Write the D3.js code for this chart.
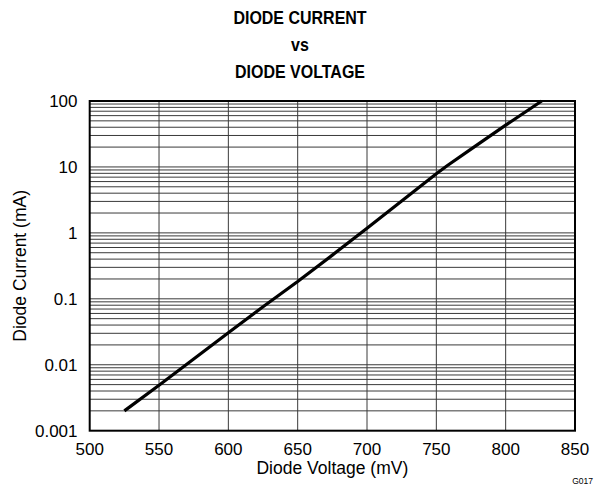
<!doctype html>
<html>
<head>
<meta charset="utf-8">
<title>Diode Current vs Diode Voltage</title>
<script src="https://d3js.org/d3.v7.min.js"></script>
<style>
  body { margin: 0; background: #fff; }
  text { font-family: "Liberation Sans", Arial, sans-serif; fill: #000; }
</style>
</head>
<body>
<svg id="chart" width="597" height="489"></svg>
<script>
// data
const voltage = [525, 550, 575, 600, 625, 650, 675, 700, 725, 750, 758, 775, 800, 826];
const current = [0.002, 0.0049, 0.0122, 0.0306, 0.076, 0.183, 0.46, 1.18, 3.05, 7.9, 10.5, 18.6, 43, 100];

const xTicks = [500, 550, 600, 650, 700, 750, 800, 850];
const yTicks = [0.001, 0.01, 0.1, 1, 10, 100];
const yTickLabels = ["0.001", "0.01", "0.1", "1", "10", "100"];
const titleLines = ["DIODE CURRENT", "vs", "DIODE VOLTAGE"];

const svg = d3.select("#chart");
const plotL = 89.7, plotR = 575, plotT = 101, plotB = 430.7;

const x = d3.scaleLinear().domain([500, 850]).range([plotL, plotR]);
const y = d3.scaleLog().domain([0.001, 100]).range([plotB, plotT]);

// minor grid : 1..9 in every decade
let minor = [];
for (let e = -3; e < 2; e++) {
  for (let m = 1; m < 10; m++) minor.push(m * Math.pow(10, e));
}
minor = minor.filter(v => v > 0.001 * 1.0001 && v < 100 * 0.9999);

const grid = svg.append("g").attr("stroke", "#3a3a3a").attr("stroke-width", 1);
grid.selectAll("line.h")
  .data(minor)
  .enter().append("line")
    .attr("x1", plotL).attr("x2", plotR)
    .attr("y1", d => y(d)).attr("y2", d => y(d));
grid.selectAll("line.v")
  .data(xTicks.slice(1, -1))
  .enter().append("line")
    .attr("x1", d => x(d)).attr("x2", d => x(d))
    .attr("y1", plotT).attr("y2", plotB);

// curve
const line = d3.line()
  .x((d, i) => x(voltage[i]))
  .y((d, i) => y(current[i]));
svg.append("path")
  .datum(voltage)
  .attr("d", line)
  .attr("fill", "none")
  .attr("stroke", "#000")
  .attr("stroke-width", 3.2)
  .attr("stroke-linejoin", "round");

// frame
svg.append("rect")
  .attr("x", plotL).attr("y", plotT)
  .attr("width", plotR - plotL).attr("height", plotB - plotT)
  .attr("fill", "none").attr("stroke", "#000").attr("stroke-width", 2);

// tick labels
svg.selectAll("text.xt")
  .data(xTicks)
  .enter().append("text")
    .attr("x", d => x(d)).attr("y", 454.5)
    .attr("text-anchor", "middle")
    .style("font-size", "17px")
    .text(d => d);

svg.selectAll("text.yt")
  .data(yTicks)
  .enter().append("text")
    .attr("x", 77.5).attr("y", d => y(d) + 6)
    .attr("text-anchor", "end")
    .style("font-size", "17px")
    .text((d, i) => yTickLabels[i]);

// axis titles
svg.append("text")
  .attr("x", (plotL + plotR) / 2).attr("y", 474)
  .attr("text-anchor", "middle")
  .style("font-size", "17.5px")
  .text("Diode Voltage (mV)");

svg.append("text")
  .attr("transform", "translate(25.5," + (plotT + plotB) / 2 + ") rotate(-90)")
  .attr("text-anchor", "middle")
  .style("font-size", "17.5px")
  .text("Diode Current (mA)");

// title
const titleY = [24, 50.5, 78];
svg.selectAll("text.title")
  .data(titleLines)
  .enter().append("text")
    .attr("transform", (d, i) => "translate(300," + titleY[i] + ") scale(1,1.2)")
    .attr("text-anchor", "middle")
    .style("font-size", "16px")
    .style("font-weight", "bold")
    .text(d => d);

svg.append("text")
  .attr("x", 593).attr("y", 484)
  .attr("text-anchor", "end")
  .style("font-size", "8.5px")
  .text("G017");
</script>
</body>
</html>
